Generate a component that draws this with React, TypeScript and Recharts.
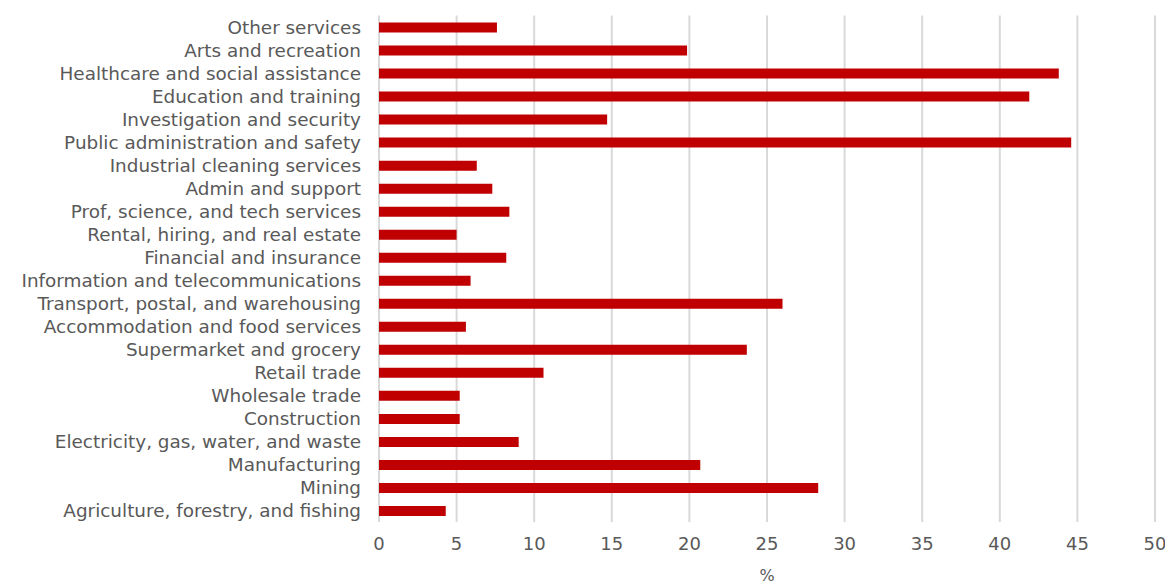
import React from 'react';
import { BarChart, Bar, XAxis, YAxis, CartesianGrid } from 'recharts';

const industries = [
  'Other services',
  'Arts and recreation',
  'Healthcare and social assistance',
  'Education and training',
  'Investigation and security',
  'Public administration and safety',
  'Industrial cleaning services',
  'Admin and support',
  'Prof, science, and tech services',
  'Rental, hiring, and real estate ',
  'Financial and insurance',
  'Information and telecommunications',
  'Transport, postal, and warehousing',
  'Accommodation and food services',
  'Supermarket and grocery',
  'Retail trade',
  'Wholesale trade',
  'Construction',
  'Electricity, gas, water, and waste',
  'Manufacturing',
  'Mining',
  'Agriculture, forestry, and fishing',
];

const shares = [
  7.6, 19.85, 43.8, 41.9, 14.7, 44.6, 6.3, 7.3, 8.4, 5.0, 8.2,
  5.9, 26.0, 5.6, 23.7, 10.6, 5.2, 5.2, 9.0, 20.7, 28.3, 4.3,
];

const xTicks = [0, 5, 10, 15, 20, 25, 30, 35, 40, 45, 50];

const data = industries.map((name, i) => ({ name, value: shares[i] }));

const FONT = '"DejaVu Sans", sans-serif';
const TEXT = '#595959';

const App: React.FC = () => {
  return (
    <div style={{ width: 1157, height: 578, fontFamily: FONT }}>
      <BarChart
        width={1157}
        height={578}
        data={data}
        layout="vertical"
        margin={{ top: 7.5, right: 10, left: 0, bottom: 0 }}
      >
        <CartesianGrid horizontal={false} stroke="#d9d9d9" strokeWidth={2} />
        <XAxis
          type="number"
          domain={[0, 50]}
          ticks={xTicks}
          axisLine={false}
          tickLine={false}
          tickMargin={9}
          height={64}
          tick={{ fill: TEXT, fontSize: 18, fontFamily: FONT }}
          label={{ value: '%', position: 'insideBottom', offset: 5, fill: TEXT, fontSize: 16, fontFamily: FONT }}
        />
        <YAxis
          type="category"
          dataKey="name"
          width={371}
          axisLine={false}
          tickLine={false}
          tickMargin={12}
          interval={0}
          tick={{ fill: TEXT, fontSize: 18.4, fontFamily: FONT }}
        />
        <Bar dataKey="value" fill="#c00000" barSize={10} isAnimationActive={false} />
      </BarChart>
    </div>
  );
};

export default App;
